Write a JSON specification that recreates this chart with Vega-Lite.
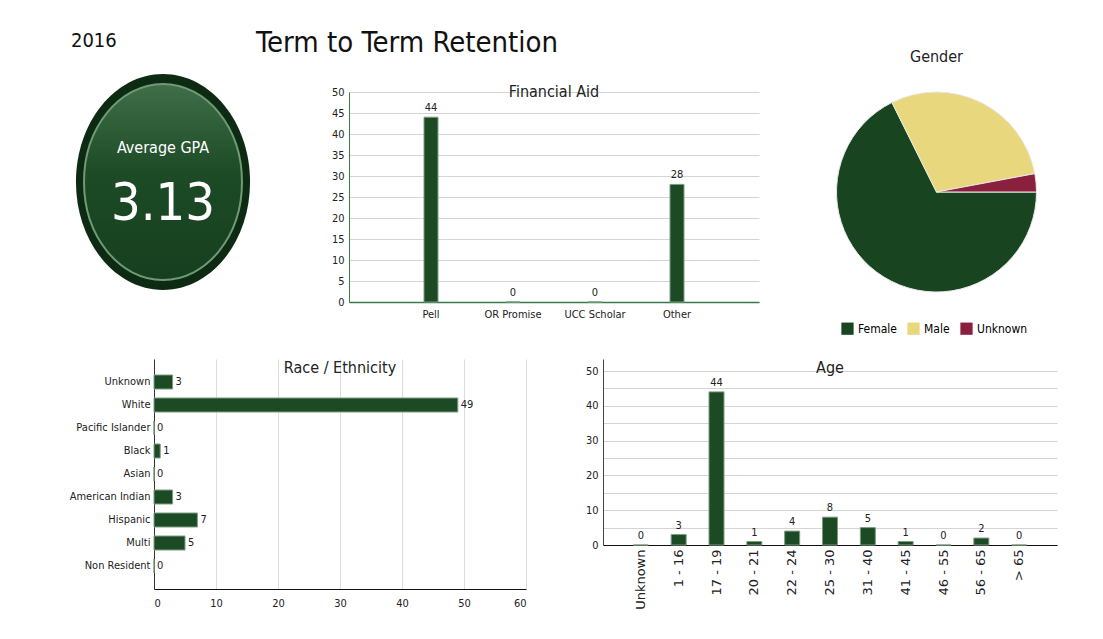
{
  "$schema": "https://vega.github.io/schema/vega-lite/v6.json",
  "background": "white",
  "padding": {"left": 69, "top": 29, "right": 5, "bottom": 5},
  "title": {"text": "Term to Term Retention", "anchor": "start", "frame": "group", "dx": 102, "offset": -27, "fontSize": 29, "fontWeight": "normal", "color": "#111"},
  "config": {
    "font": "DejaVu Sans Condensed, Lato, sans-serif",
    "view": {"stroke": null},
    "axis": {"ticks": false, "labelColor": "#222", "labelFontSize": 11, "gridColor": "#d4d4d4", "title": null},
    "title": {"fontWeight": "normal", "color": "#222"}
  },
  "resolve": {"legend": {"color": "independent"}, "scale": {"color": "independent"}},
  "datasets": {
    "gpa": [{"label": "Average GPA", "gpa": 3.13}],
    "finaid": [
      {"aid": "Pell", "count": 44},
      {"aid": "OR Promise", "count": 0},
      {"aid": "UCC Scholar", "count": 0},
      {"aid": "Other", "count": 28}
    ],
    "gender": [
      {"gender": "Female", "count": 46},
      {"gender": "Male", "count": 20},
      {"gender": "Unknown", "count": 2}
    ],
    "race": [
      {"race": "Unknown", "count": 3},
      {"race": "White", "count": 49},
      {"race": "Pacific Islander", "count": 0},
      {"race": "Black", "count": 1},
      {"race": "Asian", "count": 0},
      {"race": "American Indian", "count": 3},
      {"race": "Hispanic", "count": 7},
      {"race": "Multi", "count": 5},
      {"race": "Non Resident", "count": 0}
    ],
    "age": [
      {"age": "Unknown", "count": 0},
      {"age": "1 - 16", "count": 3},
      {"age": "17 - 19", "count": 44},
      {"age": "20 - 21", "count": 1},
      {"age": "22 - 24", "count": 4},
      {"age": "25 - 30", "count": 8},
      {"age": "31 - 40", "count": 5},
      {"age": "41 - 45", "count": 1},
      {"age": "46 - 55", "count": 0},
      {"age": "56 - 65", "count": 2},
      {"age": "> 65", "count": 0}
    ]
  },
  "bounds": "full",
  "spacing": 24,
  "vconcat": [
    {
      "bounds": "flush",
      "spacing": 177,
      "resolve": {"legend": {"color": "independent"}, "scale": {"color": "independent"}},
      "hconcat": [
        {
          "width": 18, "height": 180,
          "title": {"text": "2016", "anchor": "start", "fontSize": 20, "offset": 23, "dx": -5, "color": "#111"},
          "data": {"name": "gpa"},
          "layer": [
            {"mark": {"type": "point", "filled": true, "shape": "M -0.806 0 A 0.806 1 0 1 0 0.806 0 A 0.806 1 0 1 0 -0.806 0 Z", "size": 46656, "color": "#0d2b13", "opacity": 1}, "encoding": {}},
            {"mark": {"type": "point", "filled": true, "shape": "M -0.806 0 A 0.806 1 0 1 0 0.806 0 A 0.806 1 0 1 0 -0.806 0 Z", "size": 38416, "color": {"gradient": "linear", "x1": 0, "y1": 0, "x2": 0, "y2": 1, "stops": [{"offset": 0, "color": "#3f6e48"}, {"offset": 0.45, "color": "#1d4b26"}, {"offset": 1, "color": "#163f1f"}]}, "stroke": "#6e9a75", "strokeWidth": 2, "opacity": 1}, "encoding": {}},
            {"mark": {"type": "text", "color": "white", "fontSize": 16, "dy": -34}, "encoding": {"text": {"field": "label"}}},
            {"mark": {"type": "text", "color": "white", "fontSize": 52, "dy": 22}, "encoding": {"text": {"field": "gpa", "type": "quantitative", "format": ".2f"}}}
          ]
        },
        {
          "width": 410, "height": 210,
          "title": {"text": "Financial Aid", "fontSize": 16, "offset": -14, "anchor": "middle"},
          "data": {"name": "finaid"},
          "encoding": {
            "x": {"field": "aid", "type": "nominal", "sort": null, "scale": {"paddingInner": 0, "paddingOuter": 0.5}, "axis": {"labelAngle": 0, "labelFontSize": 11, "labelPadding": 6, "domainColor": "#3c7a48", "domainWidth": 1.5}},
            "y": {"field": "count", "type": "quantitative", "scale": {"domain": [0, 50]}, "axis": {"values": [0, 5, 10, 15, 20, 25, 30, 35, 40, 45, 50], "domainColor": "#3c7a48", "labelPadding": 5, "grid": true}}
          },
          "layer": [
            {"mark": {"type": "bar", "size": 14, "color": "#1c4a25", "stroke": "#7c9c80", "strokeWidth": 1}},
            {"mark": {"type": "text", "dy": -9, "fontSize": 11, "color": "#222"}, "encoding": {"text": {"field": "count", "type": "quantitative"}}}
          ]
        },
        {
          "width": 1, "height": 200,
          "title": {"text": "Gender", "fontSize": 16, "offset": 25},
          "data": {"name": "gender"},
          "mark": {"type": "arc", "outerRadius": 100, "stroke": "#e8e8e8", "strokeWidth": 1},
          "encoding": {
            "theta": {"field": "count", "type": "quantitative", "stack": true, "scale": {"range": [1.5708, 7.854]}},
            "color": {"field": "gender", "type": "nominal", "scale": {"domain": ["Female", "Male", "Unknown"], "range": ["#184420", "#e8d77c", "#8a1f3e"]}, "legend": {"orient": "none", "legendX": -95, "legendY": 230, "direction": "horizontal", "title": null, "symbolType": "square", "symbolSize": 150, "labelFontSize": 12, "columnPadding": 10, "symbolStrokeWidth": 0}}
          }
        }
      ]
    },
    {
      "bounds": "full",
      "spacing": 59,
      "hconcat": [
        {
          "width": 372, "height": 230,
          "title": {"text": "Race / Ethnicity", "fontSize": 16, "offset": -17},
          "data": {"name": "race"},
          "encoding": {
            "y": {"field": "race", "type": "nominal", "sort": null, "scale": {"paddingInner": 0, "paddingOuter": 0.5}, "axis": {"labelFontSize": 11, "labelPadding": 4, "domainColor": "#333", "grid": false}},
            "x": {"field": "count", "type": "quantitative", "scale": {"domain": [0, 60]}, "axis": {"values": [0, 10, 20, 30, 40, 50, 60], "grid": true, "domainColor": "#111", "labelPadding": 8, "gridColor": "#dddddd"}}
          },
          "layer": [
            {"mark": {"type": "bar", "size": 14, "color": "#1c4a25", "stroke": "#7c9c80", "strokeWidth": 1}},
            {"mark": {"type": "text", "dx": 3, "align": "left", "fontSize": 11, "color": "#222"}, "encoding": {"text": {"field": "count", "type": "quantitative"}}}
          ]
        },
        {
          "width": 454, "height": 186,
          "title": {"text": "Age", "fontSize": 16, "offset": -17},
          "data": {"name": "age"},
          "encoding": {
            "x": {"field": "age", "type": "nominal", "sort": null, "scale": {"paddingInner": 0, "paddingOuter": 0.5}, "axis": {"labelAngle": 270, "labelFontSize": 13, "labelFont": "DejaVu Sans", "labelPadding": 4, "domainColor": "#111"}},
            "y": {"field": "count", "type": "quantitative", "scale": {"domain": [0, 53.45], "nice": false}, "axis": {"values": [0, 5, 10, 15, 20, 25, 30, 35, 40, 45, 50], "labelExpr": "datum.value % 10 === 0 ? datum.label : ''", "grid": true, "domainColor": "#444", "labelPadding": 5}}
          },
          "layer": [
            {"mark": {"type": "bar", "size": 15, "color": "#1c4a25", "stroke": "#7c9c80", "strokeWidth": 1}},
            {"mark": {"type": "text", "dy": -9, "fontSize": 11, "color": "#222"}, "encoding": {"text": {"field": "count", "type": "quantitative"}}}
          ]
        }
      ]
    }
  ]
}
